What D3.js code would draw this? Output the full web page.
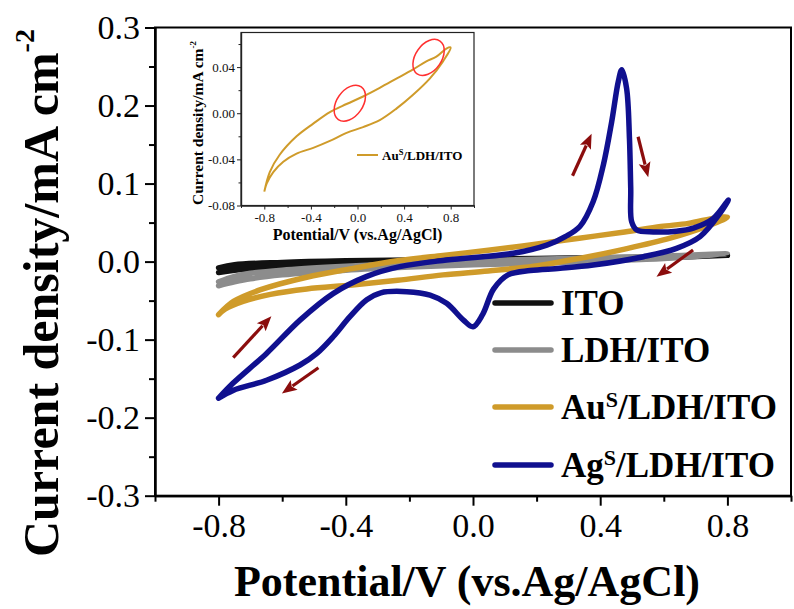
<!DOCTYPE html>
<html>
<head>
<meta charset="utf-8">
<script src="https://cdn.jsdelivr.net/npm/d3@7/dist/d3.min.js"></script>
<style>
  html, body { margin: 0; padding: 0; background: #fff; }
  svg { display: block; }
  text { font-family: "Liberation Serif", "Times New Roman", serif; }
</style>
</head>
<body>
<svg id="chart" width="794" height="609"></svg>
<script>
// ---- axis ticks ----
const potentialTicks = [-0.8, -0.4, 0.0, 0.4, 0.8];
const potentialMinor = [-1.0, -0.6, -0.2, 0.2, 0.6, 1.0];
const currentTicks = [-0.3, -0.2, -0.1, 0.0, 0.1, 0.2, 0.3];
const currentMinor = [-0.25, -0.15, -0.05, 0.05, 0.15, 0.25];
const insetCurrentTicks = [-0.08, -0.04, 0.00, 0.04];
const insetCurrentMinor = [-0.06, -0.02, 0.02, 0.06];

// ---- cyclic voltammograms: [potential V, current density mA cm^-2] ----
const itoCV = [
  [-0.8, -0.008], [-0.75, -0.004], [-0.6, -0.001], [-0.4, 0.001], [-0.2, 0.002],
  [0.0, 0.003], [0.2, 0.004], [0.4, 0.005], [0.6, 0.006], [0.8, 0.008],
  [0.6, 0.005], [0.4, 0.003], [0.2, 0.001], [0.0, -0.001], [-0.2, -0.002],
  [-0.4, -0.004], [-0.6, -0.007], [-0.75, -0.011], [-0.8, -0.014]
];
const ldhCV = [
  [-0.8, -0.026], [-0.75, -0.019], [-0.7, -0.015], [-0.6, -0.011], [-0.4, -0.006],
  [-0.2, -0.002], [0.0, 0.001], [0.2, 0.003], [0.4, 0.005], [0.6, 0.007], [0.8, 0.010],
  [0.6, 0.004], [0.4, 0.001], [0.2, -0.002], [0.0, -0.004], [-0.2, -0.007],
  [-0.4, -0.011], [-0.6, -0.017], [-0.7, -0.022], [-0.75, -0.026], [-0.8, -0.031]
];
const auCV = [
  [-0.8, -0.068], [-0.753, -0.051], [-0.668, -0.036], [-0.523, -0.020], [-0.38, -0.009],
  [-0.237, 0.001], [-0.094, 0.008], [0.048, 0.0145], [0.191, 0.022], [0.334, 0.030],
  [0.477, 0.038], [0.591, 0.045], [0.677, 0.049], [0.763, 0.056], [0.8, 0.057],
  [0.734, 0.045], [0.62, 0.030], [0.477, 0.016], [0.334, 0.004], [0.191, -0.006],
  [0.048, -0.012], [-0.094, -0.017], [-0.237, -0.024], [-0.38, -0.030], [-0.523, -0.035],
  [-0.637, -0.042], [-0.723, -0.051], [-0.78, -0.061], [-0.8, -0.068]
];
const agCV = [
  [-0.8, -0.175], [-0.755, -0.156], [-0.65, -0.118], [-0.544, -0.075], [-0.44, -0.041],
  [-0.334, -0.019], [-0.23, -0.0065], [-0.083, 0.002], [0.127, 0.0106], [0.232, 0.021],
  [0.29, 0.032], [0.336, 0.045], [0.378, 0.077], [0.41, 0.124], [0.436, 0.179],
  [0.457, 0.231], [0.468, 0.246], [0.483, 0.222], [0.492, 0.158], [0.496, 0.094],
  [0.499, 0.051], [0.515, 0.0405], [0.567, 0.038], [0.64, 0.039], [0.693, 0.043],
  [0.756, 0.0555], [0.803, 0.079],
  [0.777, 0.062], [0.714, 0.032], [0.64, 0.017], [0.536, 0.0063], [0.378, -0.0044],
  [0.274, -0.0086], [0.18, -0.0115], [0.11, -0.017], [0.065, -0.035], [0.03, -0.068],
  [0.0, -0.0835], [-0.03, -0.075], [-0.083, -0.0535], [-0.135, -0.043], [-0.208, -0.0385],
  [-0.29, -0.040], [-0.334, -0.049], [-0.387, -0.0706], [-0.439, -0.096], [-0.492, -0.118],
  [-0.544, -0.1325], [-0.649, -0.152], [-0.754, -0.165], [-0.8, -0.175]
];

// scan-direction arrows: [tail, head] in data units
const scanArrows = [
  [[-0.754, -0.123], [-0.634, -0.070]],
  [[-0.486, -0.136], [-0.601, -0.169]],
  [[0.313, 0.110], [0.373, 0.164]],
  [[0.519, 0.160], [0.551, 0.108]],
  [[0.692, 0.0148], [0.577, -0.0193]]
];

// highlighted regions in the inset: [potential, current]
const insetHighlights = [[-0.066, 0.0087], [0.61, 0.0484]];

const series = [
  { name: "ITO", sup: null, data: itoCV, color: "#111111" },
  { name: "LDH/ITO", sup: null, data: ldhCV, color: "#8c8c8c" },
  { name: "Au", sup: "S", rest: "/LDH/ITO", data: auCV, color: "#cf9b2a" },
  { name: "Ag", sup: "S", rest: "/LDH/ITO", data: agCV, color: "#10108f" }
];

const svg = d3.select("#chart");
// tick labels use a plain hyphen for negative values
const hyphen = f => v => f(v).replace("\u2212", "-");
const fmt1 = hyphen(d3.format(".1f"));
const fmt2 = hyphen(d3.format(".2f"));

// ================= main panel =================
const x = d3.scaleLinear().domain([-1, 1]).range([155, 791]);
const y = d3.scaleLinear().domain([-0.3, 0.3]).range([495.7, 27.5]);

const main = svg.append("g");

// frame (top and right sides)
main.append("rect")
  .attr("x", x(-1)).attr("y", y(0.3))
  .attr("width", x(1) - x(-1)).attr("height", y(-0.3) - y(0.3))
  .attr("fill", "none").attr("stroke", "#000").attr("stroke-width", 2);

function styleAxis(g, fontSize) {
  g.select(".domain").attr("stroke-width", 2);
  g.selectAll(".tick line").attr("stroke-width", 2);
  g.selectAll("text").attr("font-size", fontSize).attr("fill", "#000")
    .style("font-family", '"Liberation Serif", serif');
}

// bottom axis
const xMajor = main.append("g").attr("transform", `translate(0,${y(-0.3)})`)
  .call(d3.axisBottom(x).tickValues(potentialTicks).tickFormat(fmt1).tickSize(10).tickPadding(7).tickSizeOuter(0));
styleAxis(xMajor, 34);
const xMin = main.append("g").attr("transform", `translate(0,${y(-0.3)})`)
  .call(d3.axisBottom(x).tickValues(potentialMinor).tickFormat("").tickSize(6).tickSizeOuter(0));
styleAxis(xMin, 34);

// left axis
const yMajor = main.append("g").attr("transform", `translate(${x(-1)},0)`)
  .call(d3.axisLeft(y).tickValues(currentTicks).tickFormat(fmt1).tickSize(10).tickPadding(5).tickSizeOuter(0));
styleAxis(yMajor, 34);
const yMin = main.append("g").attr("transform", `translate(${x(-1)},0)`)
  .call(d3.axisLeft(y).tickValues(currentMinor).tickFormat("").tickSize(6).tickSizeOuter(0));
styleAxis(yMin, 34);

// axis titles
main.append("text")
  .attr("x", (x(-1) + x(1)) / 2 - 6).attr("y", 596)
  .attr("text-anchor", "middle").attr("font-size", 44).attr("font-weight", "bold")
  .text("Potential/V (vs.Ag/AgCl)");

const yTitle = main.append("text")
  .attr("transform", "translate(58,557) rotate(-90)")
  .attr("text-anchor", "start").attr("font-size", 50).attr("font-weight", "bold");
yTitle.append("tspan").text("Current density/mA cm");
yTitle.append("tspan").attr("font-size", 28).attr("dy", -24).text("-2");

// curves
const line = d3.line().x(d => x(d[0])).y(d => y(d[1])).curve(d3.curveCatmullRom.alpha(0.5));
main.append("g").selectAll("path").data(series).join("path")
  .attr("d", d => line(d.data))
  .attr("fill", "none")
  .attr("stroke", d => d.color)
  .attr("stroke-width", 5.5)
  .attr("stroke-linecap", "round")
  .attr("stroke-linejoin", "round");

// scan-direction arrows
const arrowColor = "#8b0d0d";
const arrows = main.append("g");
scanArrows.forEach(([t, h]) => {
  const x0 = x(t[0]), y0 = y(t[1]), x1 = x(h[0]), y1 = y(h[1]);
  const dx = x1 - x0, dy = y1 - y0, len = Math.hypot(dx, dy);
  const ux = dx / len, uy = dy / len;
  const headLen = 15, headW = 6;
  const bx = x1 - ux * headLen, by = y1 - uy * headLen;
  arrows.append("line")
    .attr("x1", x0).attr("y1", y0).attr("x2", bx + ux * 2).attr("y2", by + uy * 2)
    .attr("stroke", arrowColor).attr("stroke-width", 3.2);
  arrows.append("path")
    .attr("d", `M${x1},${y1}L${bx - uy * headW},${by + ux * headW}L${bx + ux * 3},${by + uy * 3}L${bx + uy * headW},${by - ux * headW}Z`)
    .attr("fill", arrowColor);
});

// legend
const legend = main.append("g");
const legendRows = [303, 350, 407, 465];
series.forEach((s, i) => {
  const ly = legendRows[i];
  legend.append("line")
    .attr("x1", 495).attr("x2", 551).attr("y1", ly).attr("y2", ly)
    .attr("stroke", s.color).attr("stroke-width", 5.5).attr("stroke-linecap", "round");
  const t = legend.append("text")
    .attr("x", 561).attr("y", ly + 12)
    .attr("font-size", 35).attr("font-weight", "bold");
  t.append("tspan").text(s.name);
  if (s.sup) {
    t.append("tspan").attr("font-size", 22).attr("dy", -12).text(s.sup);
    t.append("tspan").attr("dy", 12).text(s.rest);
  }
});

// ================= inset =================
const ix = d3.scaleLinear().domain([-1, 1]).range([241, 474]);
const iy = d3.scaleLinear().domain([-0.08, 0.07]).range([205.5, 32.5]);
const inset = svg.append("g");

inset.append("rect")
  .attr("x", ix(-1)).attr("y", iy(0.07))
  .attr("width", ix(1) - ix(-1)).attr("height", iy(-0.08) - iy(0.07))
  .attr("fill", "#fff").attr("stroke", "#222").attr("stroke-width", 1.2);

function styleInset(g) {
  g.select(".domain").attr("stroke-width", 1.2).attr("stroke", "#222");
  g.selectAll(".tick line").attr("stroke-width", 1).attr("stroke", "#222");
  g.selectAll("text").attr("font-size", 13).attr("fill", "#111")
    .style("font-family", '"Liberation Serif", serif');
}
const ixMajor = inset.append("g").attr("transform", `translate(0,${iy(-0.08)})`)
  .call(d3.axisBottom(ix).tickValues(potentialTicks).tickFormat(fmt1).tickSize(4).tickPadding(3).tickSizeOuter(0));
styleInset(ixMajor);
const ixMin = inset.append("g").attr("transform", `translate(0,${iy(-0.08)})`)
  .call(d3.axisBottom(ix).tickValues(potentialMinor).tickFormat("").tickSize(2.5).tickSizeOuter(0));
styleInset(ixMin);
const iyMajor = inset.append("g").attr("transform", `translate(${ix(-1)},0)`)
  .call(d3.axisLeft(iy).tickValues(insetCurrentTicks).tickFormat(fmt2).tickSize(4).tickPadding(2).tickSizeOuter(0));
styleInset(iyMajor);
const iyMin = inset.append("g").attr("transform", `translate(${ix(-1)},0)`)
  .call(d3.axisLeft(iy).tickValues(insetCurrentMinor).tickFormat("").tickSize(2.5).tickSizeOuter(0));
styleInset(iyMin);

inset.append("text")
  .attr("x", (ix(-1) + ix(1)) / 2).attr("y", 240)
  .attr("text-anchor", "middle").attr("font-size", 16).attr("font-weight", "bold")
  .text("Potential/V (vs.Ag/AgCl)");
const iyTitle = inset.append("text")
  .attr("transform", "translate(203,205) rotate(-90)")
  .attr("text-anchor", "start").attr("font-size", 15.5).attr("font-weight", "bold");
iyTitle.append("tspan").text("Current density/mA cm");
iyTitle.append("tspan").attr("font-size", 9).attr("dy", -7).text("-2");

const iline = d3.line().x(d => ix(d[0])).y(d => iy(d[1])).curve(d3.curveCatmullRom.alpha(0.5));
inset.append("path")
  .attr("d", iline(auCV))
  .attr("fill", "none").attr("stroke", "#cf9b2a").attr("stroke-width", 2)
  .attr("stroke-linejoin", "round");

inset.selectAll("ellipse").data(insetHighlights).join("ellipse")
  .attr("transform", d => `translate(${ix(d[0])},${iy(d[1])}) rotate(-55)`)
  .attr("rx", 20).attr("ry", 13)
  .attr("fill", "none").attr("stroke", "#ff3030").attr("stroke-width", 1.5);

// inset legend
inset.append("line")
  .attr("x1", 357).attr("x2", 378).attr("y1", 155).attr("y2", 155)
  .attr("stroke", "#cf9b2a").attr("stroke-width", 2);
const il = inset.append("text").attr("x", 382).attr("y", 159.5)
  .attr("font-size", 13).attr("font-weight", "bold");
il.append("tspan").text("Au");
il.append("tspan").attr("font-size", 8.5).attr("dy", -4.5).text("S");
il.append("tspan").attr("dy", 4.5).text("/LDH/ITO");
</script>
</body>
</html>
